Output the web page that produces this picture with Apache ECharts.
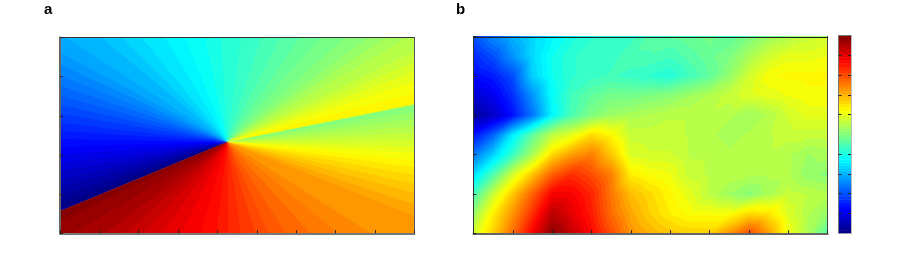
<!DOCTYPE html>
<html>
<head>
<meta charset="utf-8">
<style>html,body{margin:0;padding:0;background:#fff}#c{width:914px;height:275px}</style>
<script src="https://cdn.jsdelivr.net/npm/echarts@6/dist/echarts.min.js"></script>
</head>
<body>
<div id="c"></div>
<script>
// Panel a: rim points (axis units) between neighbouring fan wedges, clockwise from the left cut
const fanCentre = [4.25, 2.33];
const fanRimX = [0,0,0,0,0,0,0,0,0,0,0,0,0,0,0,0,0,0,0,
  0.14,1.05,1.56,2.07,2.67,3.18,3.69,4.09,4.60,5.11,5.59,6.10,6.63,7.24,7.82,8.28,8.84,
  9,9,9,9,9,9,
  9,9,9,9,9,9,9,9,9,9,9,9,9,9,
  7.90,7.06,6.35,5.74,5.29,4.96,4.60,4.27,3.97,3.56,3.08,2.57,2.12,1.66,1.15,0.32,
  0,0];
const fanRimY = [0.56,0.77,0.97,1.18,1.38,1.59,1.79,2.0,2.21,2.41,2.62,2.82,3.05,3.28,3.51,3.77,4.03,4.31,4.62,
  5,5,5,5,5,5,5,5,5,5,5,5,5,5,5,5,5,
  4.64,4.38,4.13,3.87,3.59,3.29,
  3.10,2.92,2.74,2.56,2.38,2.21,2.05,1.87,1.69,1.49,1.26,1.03,0.74,0.44,
  0,0,0,0,0,0,0,0,0,0,0,0,0,0,0,0,
  0.33,0.56];
const fanLevels = [0,1,2,3,4,5,6,7,8,9,10,11,12,13,14,15,16,17,18,
  19,20,21,22,23,24,25,26,27,28,29,30,31,32,33,34,35,
  36,37,38,39,40,
  /* jump at the right cut */ 32,33,34,35,36,37,38,39,40,41,42,43,44,45,46,
  47,48,49,50,51,52,53,54,55,56,57,58,59,60,61,62,63];

// Panel b: field values every half tick, one list per row
const fieldStep = 0.5;
const fieldY50 = [.20,.26,.30,.34,.37,.40,.42,.43,.43,.46,.47,.48,.49,.47,.50,.53,.55,.57,.58];
const fieldY45 = [.16,.20,.27,.34,.39,.42,.43,.43,.45,.45,.44,.46,.48,.50,.54,.58,.60,.60,.61];
const fieldY40 = [.13,.15,.20,.33,.39,.42,.43,.44,.43,.42,.41,.44,.47,.52,.58,.62,.63,.63,.63];
const fieldY35 = [.08,.11,.17,.27,.38,.44,.47,.49,.49,.50,.51,.53,.55,.57,.59,.60,.61,.62,.62];
const fieldY30 = [.03,.07,.14,.24,.37,.45,.50,.53,.54,.55,.56,.56,.56,.55,.53,.55,.58,.60,.60];
const fieldY25 = [.14,.22,.36,.47,.56,.60,.66,.63,.57,.57,.57,.56,.55,.54,.55,.56,.57,.57,.57];
const fieldY20 = [.24,.33,.43,.54,.66,.72,.75,.68,.59,.58,.58,.56,.56,.55,.56,.56,.55,.53,.54];
const fieldY15 = [.34,.45,.58,.68,.78,.83,.80,.75,.64,.62,.61,.57,.56,.56,.55,.55,.55,.52,.51];
const fieldY10 = [.44,.57,.68,.78,.88,.88,.84,.76,.69,.66,.63,.60,.56,.53,.51,.54,.57,.56,.55];
const fieldY05 = [.52,.64,.73,.83,.94,.90,.85,.77,.71,.67,.64,.62,.62,.62,.66,.65,.59,.55,.52];
const fieldY00 = [.58,.67,.77,.88,.99,.93,.87,.80,.73,.70,.68,.67,.67,.73,.80,.72,.61,.54,.46];
const fieldRows = [fieldY00,fieldY05,fieldY10,fieldY15,fieldY20,fieldY25,fieldY30,fieldY35,fieldY40,fieldY45,fieldY50];

const scaleLevels = 64;
const scaleTicks = [0.1,0.2,0.3,0.4,0.6,0.7,0.8,0.9];

function jet(v){
  const c = t => Math.round(255*Math.max(0,Math.min(1,1.5-Math.abs(4*t))));
  return 'rgb('+c(v-0.75)+','+c(v-0.5)+','+c(v-0.25)+')';
}
function levelColor(l){ return jet((l+0.5)/scaleLevels); }

// keep the part of a triangle whose value is at least lo
function clipAbove(pts, lo){
  const out = [];
  for(let i=0;i<pts.length;i++){
    const a=pts[i], b=pts[(i+1)%pts.length];
    const ia=a[2]>=lo, ib=b[2]>=lo;
    if(ia) out.push(a);
    if(ia!==ib){
      const t=(lo-a[2])/(b[2]-a[2]);
      out.push([a[0]+t*(b[0]-a[0]),a[1]+t*(b[1]-a[1]),lo]);
    }
  }
  return out;
}

function renderFan(params, api){
  const i = api.value(0);
  const far = k => [
    fanCentre[0]+(fanRimX[k]-fanCentre[0])*6,
    fanCentre[1]+(fanRimY[k]-fanCentre[1])*6];
  // each wedge runs under the next one, which paints its own edge over it
  const end = Math.min(i+2, fanRimX.length-1);
  const pts = [api.coord(fanCentre), api.coord(far(i)), api.coord(far(end))];
  return {type:'polygon',shape:{points:pts},style:{fill:levelColor(fanLevels[i])}};
}

// one filled-contour path per level: everything at or above it, lowest level first
function renderField(params, api){
  const l = api.value(0);
  const lo = l===0 ? -1 : l/scaleLevels;
  let d = '';
  const n = (a,b)=>[a,b,fieldRows[b][a]];
  for(let y=0;y<fieldRows.length-1;y++){
    for(let x=0;x<fieldY00.length-1;x++){
      [[n(x,y),n(x+1,y),n(x+1,y+1)],[n(x,y),n(x+1,y+1),n(x,y+1)]].forEach(tri=>{
        const part = clipAbove(tri,lo);
        if(part.length<3) return;
        part.forEach((p,k)=>{
          const c = api.coord([p[0]*fieldStep,p[1]*fieldStep]);
          d += (k?'L':'M')+c[0].toFixed(2)+' '+c[1].toFixed(2);
        });
        d += 'Z';
      });
    }
  }
  if(!d) return null;
  return {type:'path',shape:{pathData:d},style:{fill:levelColor(l)}};
}

function renderScale(params, api){
  const l = api.value(0);
  const a = api.coord([0,l/scaleLevels]), b = api.coord([1,(l+1)/scaleLevels]);
  return {type:'rect',
    shape:{x:a[0],y:b[1],width:b[0]-a[0],height:a[1]-b[1]+0.5},
    style:{fill:levelColor(l)}};
}

const fanData = fanLevels.map((v,i)=>[i,v]);
const levelData = [];
for(let l=0;l<scaleLevels;l++) levelData.push([l]);

const tick = {show:true,inside:true,length:3,lineStyle:{color:'#222',width:1}};
const line = (color,width)=>({show:true,onZero:false,lineStyle:{color,width}});
const plainX = (grid,pos,lc,lw,showTick,max)=>({type:'value',gridIndex:grid,position:pos,min:0,max,interval:1,z:10,
  axisLine:line(lc,lw),axisTick:showTick?tick:{show:false},axisLabel:{show:false},splitLine:{show:false}});
const plainY = plainX;
const scaleY = (pos,lc)=>({type:'value',gridIndex:2,position:pos,min:0,max:1,interval:0.1,z:10,
  axisLine:line(lc,1),
  axisTick:{show:true,inside:true,length:3,customValues:scaleTicks,lineStyle:{color:'#222',width:1}},
  axisLabel:{show:false},splitLine:{show:false}});

const chart = echarts.init(document.getElementById('c'),null,{renderer:'canvas'});
chart.setOption({
  animation:false,
  backgroundColor:'#fff',
  title:[
    {text:'a',left:44,top:2,padding:0,textStyle:{fontFamily:'Liberation Sans',fontWeight:'bold',fontSize:15,color:'#000'}},
    {text:'b',left:456,top:2,padding:0,textStyle:{fontFamily:'Liberation Sans',fontWeight:'bold',fontSize:15,color:'#000'}}
  ],
  grid:[
    {left:60,top:37.5,width:354.3,height:195.8},
    {left:473.4,top:36.5,width:354.3,height:196.8},
    {left:838.5,top:35.5,width:12.5,height:197.8}
  ],
  xAxis:[
    plainX(0,'bottom','#777',2,true,9),
    plainX(0,'top','#333',1,false,9),
    plainX(1,'bottom','#666',2,true,9),
    Object.assign(plainX(1,'top','#222',1,false,9),{offset:-1}),
    {type:'value',gridIndex:2,position:'bottom',min:0,max:1,axisLine:line('#99a',1),axisTick:{show:false},axisLabel:{show:false},splitLine:{show:false},z:10},
    {type:'value',gridIndex:2,position:'top',min:0,max:1,axisLine:line('#777',1),axisTick:{show:false},axisLabel:{show:false},splitLine:{show:false},z:10}
  ],
  yAxis:[
    plainY(0,'left','#666',2,true,5),
    plainY(0,'right','#555',1,false,5),
    plainY(1,'left','#333',1,true,5),
    plainY(1,'right','#444',1,false,5),
    scaleY('left','#777'),
    scaleY('right','#bbb')
  ],
  series:[
    {type:'custom',xAxisIndex:0,yAxisIndex:0,clip:true,silent:true,data:fanData,renderItem:renderFan,encode:{x:0,y:1}},
    {type:'custom',xAxisIndex:2,yAxisIndex:2,clip:true,silent:true,data:levelData,renderItem:renderField},
    {type:'custom',xAxisIndex:4,yAxisIndex:4,clip:true,silent:true,data:levelData,renderItem:renderScale}
  ]
});
</script>
</body>
</html>
